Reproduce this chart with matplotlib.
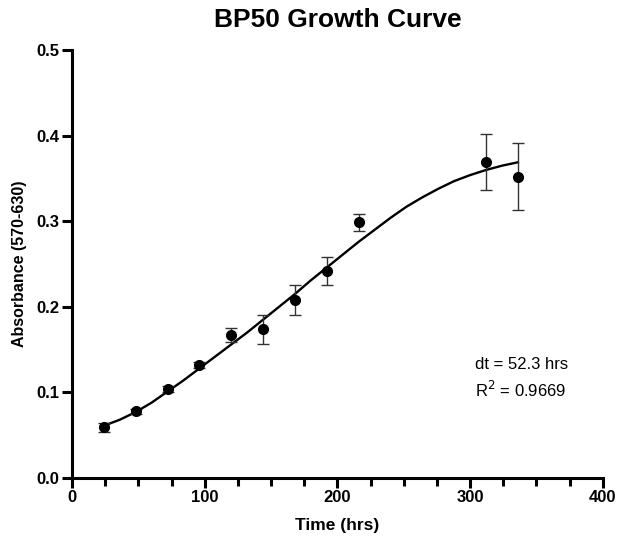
import matplotlib
matplotlib.use("Agg")
import matplotlib.pyplot as plt
from matplotlib.ticker import MultipleLocator

plt.rcParams['font.family'] = ['Liberation Sans', 'DejaVu Sans']

# Measured data
time_hrs = [24, 48, 72, 96, 120, 144, 168, 192, 216, 312, 336]
absorbance = [0.059, 0.078, 0.104, 0.132, 0.167, 0.174, 0.208, 0.242, 0.299, 0.369, 0.352]
abs_err = [0.005, 0.003, 0.003, 0.003, 0.008, 0.017, 0.018, 0.016, 0.010, 0.033, 0.039]

# Fitted curve
fit_t = [24, 36, 48, 60, 72, 84, 96, 108, 120, 132, 144, 156, 168, 180, 192,
         204, 216, 228, 240, 252, 264, 276, 288, 300, 312, 324, 336]
fit_y = [0.061, 0.068, 0.077, 0.088, 0.101, 0.114, 0.128, 0.142, 0.156, 0.170,
         0.185, 0.200, 0.215, 0.231, 0.246, 0.261, 0.276, 0.290, 0.304, 0.317,
         0.328, 0.338, 0.347, 0.354, 0.360, 0.365, 0.369]

fig = plt.figure(figsize=(6.17, 5.40), dpi=100)
ax = fig.add_axes([0.1167, 0.115, 0.8603, 0.792])

ax.plot(fit_t, fit_y, color='black', lw=1.7, zorder=2)
ax.errorbar(time_hrs, absorbance, yerr=abs_err, fmt='o', color='black',
            ms=7, ecolor='#333333', elinewidth=1.0, capsize=4.5, capthick=1.0, zorder=3)

ax.set_xlim(0, 400)
ax.set_ylim(0, 0.5)
ax.xaxis.set_major_locator(MultipleLocator(100))
ax.xaxis.set_minor_locator(MultipleLocator(25))
ax.yaxis.set_major_locator(MultipleLocator(0.1))
ax.yaxis.set_major_formatter(matplotlib.ticker.FormatStrFormatter('%.1f'))

for s in ['top', 'right']:
    ax.spines[s].set_visible(False)
for s in ['left', 'bottom']:
    ax.spines[s].set_linewidth(2.2)
ax.tick_params(axis='both', which='major', direction='out', length=7, width=2.2,
               labelsize=12, pad=2)
ax.tick_params(axis='x', which='minor', direction='out', length=6, width=2.2)
for lbl in ax.get_xticklabels() + ax.get_yticklabels():
    lbl.set_fontweight('bold')

ax.set_xlabel('Time (hrs)', fontsize=12.5, fontweight='bold', labelpad=9)
ax.set_ylabel('Absorbance (570-630)', fontsize=11.5, fontweight='bold', labelpad=7)
ax.set_title('BP50 Growth Curve', fontsize=19, fontweight='bold', pad=17)

ax.text(304, 0.133, 'dt = 52.3 hrs', fontsize=12, va='center', ha='left')
ax.text(304, 0.103, 'R$^2$ = 0.9669', fontsize=12, va='center', ha='left')

fig.savefig('out.png', dpi=100)
